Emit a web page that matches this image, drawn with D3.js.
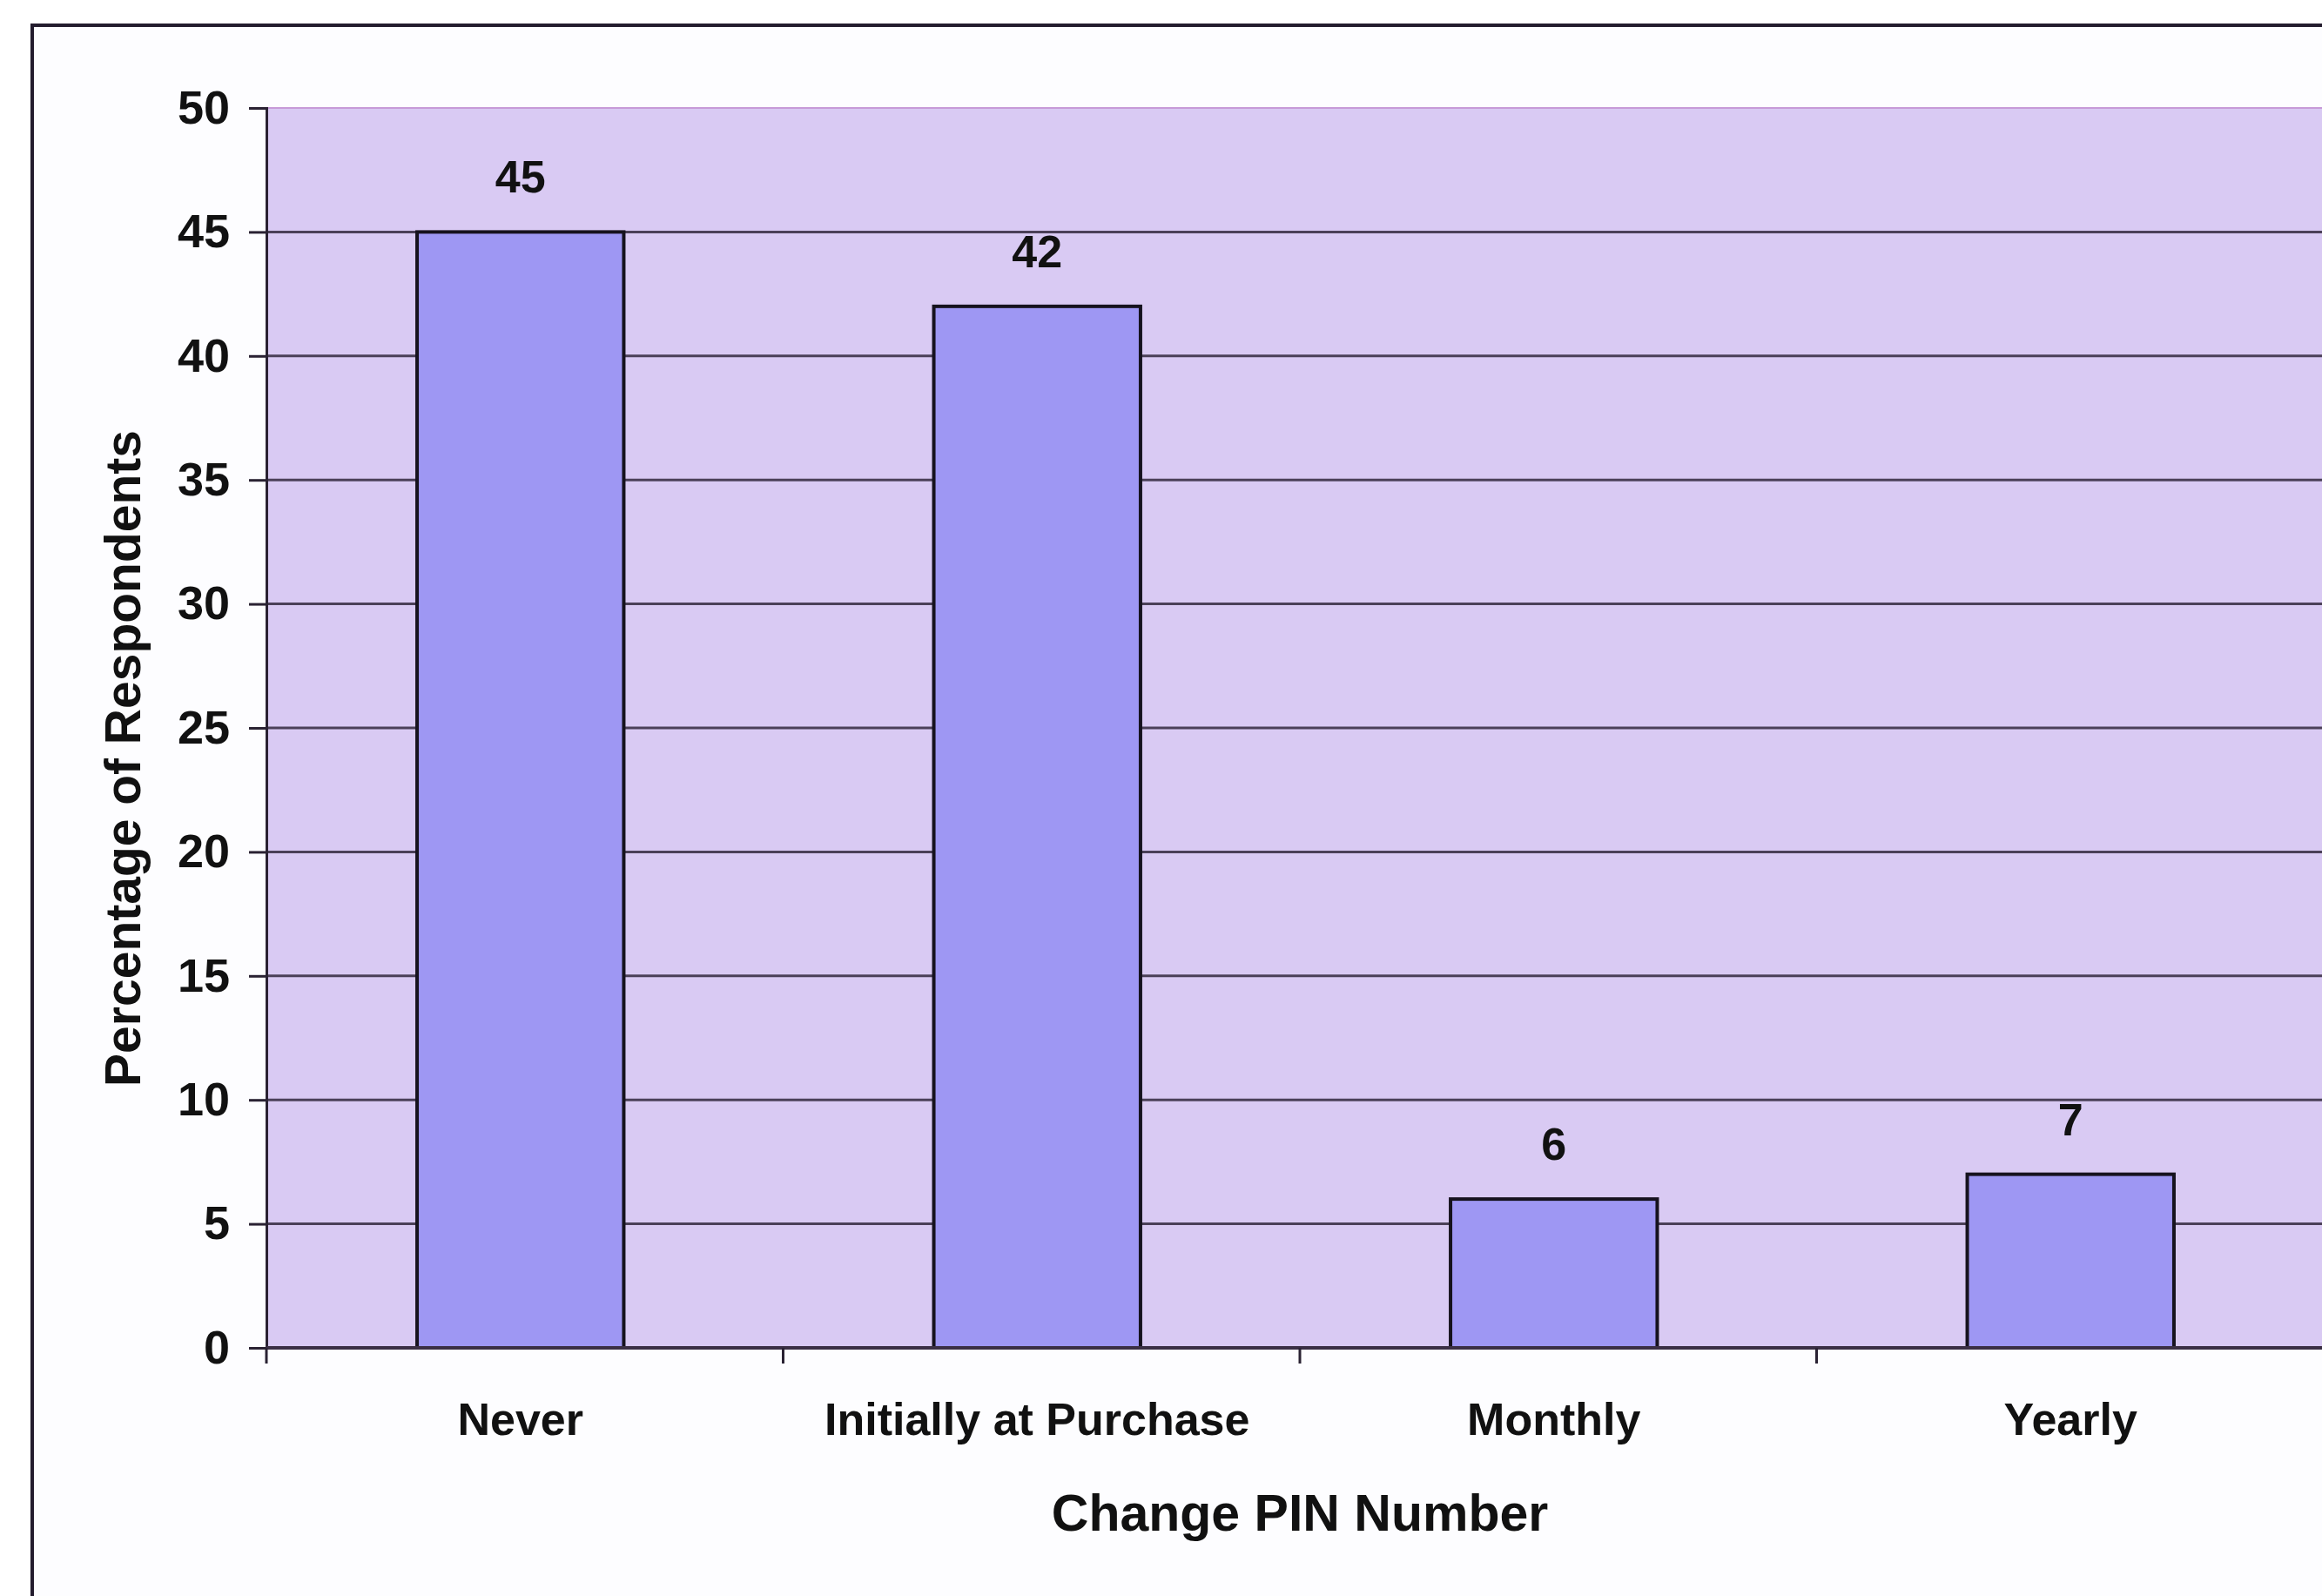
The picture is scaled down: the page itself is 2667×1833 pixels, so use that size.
<!DOCTYPE html>
<html>
<head>
<meta charset="utf-8">
<script src="https://cdn.jsdelivr.net/npm/d3@7"></script>
<style>
  html, body { margin: 0; padding: 0; background: #ffffff; }
  svg { display: block; }
  text { font-family: "Liberation Sans", Arial, sans-serif; font-weight: bold; fill: #111; }
</style>
</head>
<body>
<svg id="chart" width="2667" height="1833"></svg>
<script>
const categories = ["Never", "Initially at Purchase", "Monthly", "Yearly"];
const values = [45, 42, 6, 7];
const yTickValues = [0, 5, 10, 15, 20, 25, 30, 35, 40, 45, 50];
const xTitle = "Change PIN Number";
const yTitle = "Percentage of Respondents";

const W = 2667, H = 1833;
const plot = { left: 306, right: 2680, top: 124, bottom: 1548 };
const barShift = -5;

const svg = d3.select("#chart");

// outer chart border
svg.append("rect")
  .attr("x", 37).attr("y", 29)
  .attr("width", W + 20).attr("height", H + 20)
  .attr("fill", "#fdfdff")
  .attr("stroke", "#231c2e").attr("stroke-width", 4);

const x = d3.scaleBand()
  .domain(categories)
  .range([plot.left, plot.right])
  .paddingInner(0.6)
  .paddingOuter(0.3);

const y = d3.scaleLinear()
  .domain([0, 50])
  .range([plot.bottom, plot.top]);

// plot background
svg.append("rect")
  .attr("x", plot.left).attr("y", y(50))
  .attr("width", plot.right - plot.left).attr("height", y(0) - y(50))
  .attr("fill", "#d9caf3");

// top edge of plot area
svg.append("line")
  .attr("x1", plot.left).attr("x2", plot.right)
  .attr("y1", y(50)).attr("y2", y(50))
  .attr("stroke", "#c79ad8").attr("stroke-width", 2);

// gridlines
svg.append("g")
  .selectAll("line")
  .data(yTickValues.filter(d => d > 0 && d < 50))
  .join("line")
  .attr("x1", plot.left).attr("x2", plot.right)
  .attr("y1", d => y(d)).attr("y2", d => y(d))
  .attr("stroke", "#4b4058").attr("stroke-width", 3);

// bars
svg.append("g")
  .selectAll("rect")
  .data(categories.map((c, i) => ({ c, v: values[i] })))
  .join("rect")
  .attr("x", d => x(d.c) + barShift)
  .attr("y", d => y(d.v))
  .attr("width", x.bandwidth())
  .attr("height", d => y(0) - y(d.v))
  .attr("fill", "#9e97f3")
  .attr("stroke", "#16121e")
  .attr("stroke-width", 4);

// value labels
svg.append("g")
  .selectAll("text")
  .data(categories.map((c, i) => ({ c, v: values[i] })))
  .join("text")
  .attr("x", d => x(d.c) + x.bandwidth() / 2 + barShift)
  .attr("y", d => y(d.v) - 45)
  .attr("text-anchor", "middle")
  .attr("font-size", 52)
  .text(d => d.v);

// y axis
const yAxis = d3.axisLeft(y)
  .tickValues(yTickValues)
  .tickSize(20)
  .tickPadding(22)
  .tickFormat(d3.format("d"));
const gy = svg.append("g")
  .attr("transform", `translate(${plot.left},0)`)
  .call(yAxis);
gy.select(".domain").attr("stroke", "#2a2233").attr("stroke-width", 3);
gy.selectAll(".tick line").attr("stroke", "#2a2233").attr("stroke-width", 3);
gy.selectAll(".tick text")
  .attr("font-size", 54)
  .attr("font-family", "'Liberation Sans', Arial, sans-serif")
  .attr("font-weight", "bold")
  .attr("fill", "#111");

// x axis baseline
svg.append("line")
  .attr("x1", plot.left).attr("x2", plot.right)
  .attr("y1", y(0)).attr("y2", y(0))
  .attr("stroke", "#3a2f44").attr("stroke-width", 4);

// category boundary ticks
const boundaries = d3.range(categories.length + 1).map(i => plot.left + i * x.step());
svg.append("g")
  .selectAll("line")
  .data(boundaries)
  .join("line")
  .attr("x1", d => d).attr("x2", d => d)
  .attr("y1", y(0)).attr("y2", y(0) + 18)
  .attr("stroke", "#2a2233").attr("stroke-width", 3);

// category labels
svg.append("g")
  .selectAll("text")
  .data(categories)
  .join("text")
  .attr("x", d => x(d) + x.bandwidth() / 2 + barShift)
  .attr("y", y(0) + 100)
  .attr("text-anchor", "middle")
  .attr("font-size", 52)
  .text(d => d);

// x title
svg.append("text")
  .attr("x", (plot.left + plot.right) / 2)
  .attr("y", 1758)
  .attr("text-anchor", "middle")
  .attr("font-size", 59)
  .text(xTitle);

// y title
svg.append("text")
  .attr("transform", `translate(161, ${(y(0) + y(50)) / 2 + 35}) rotate(-90)`)
  .attr("text-anchor", "middle")
  .attr("font-size", 57)
  .text(yTitle);
</script>
</body>
</html>
